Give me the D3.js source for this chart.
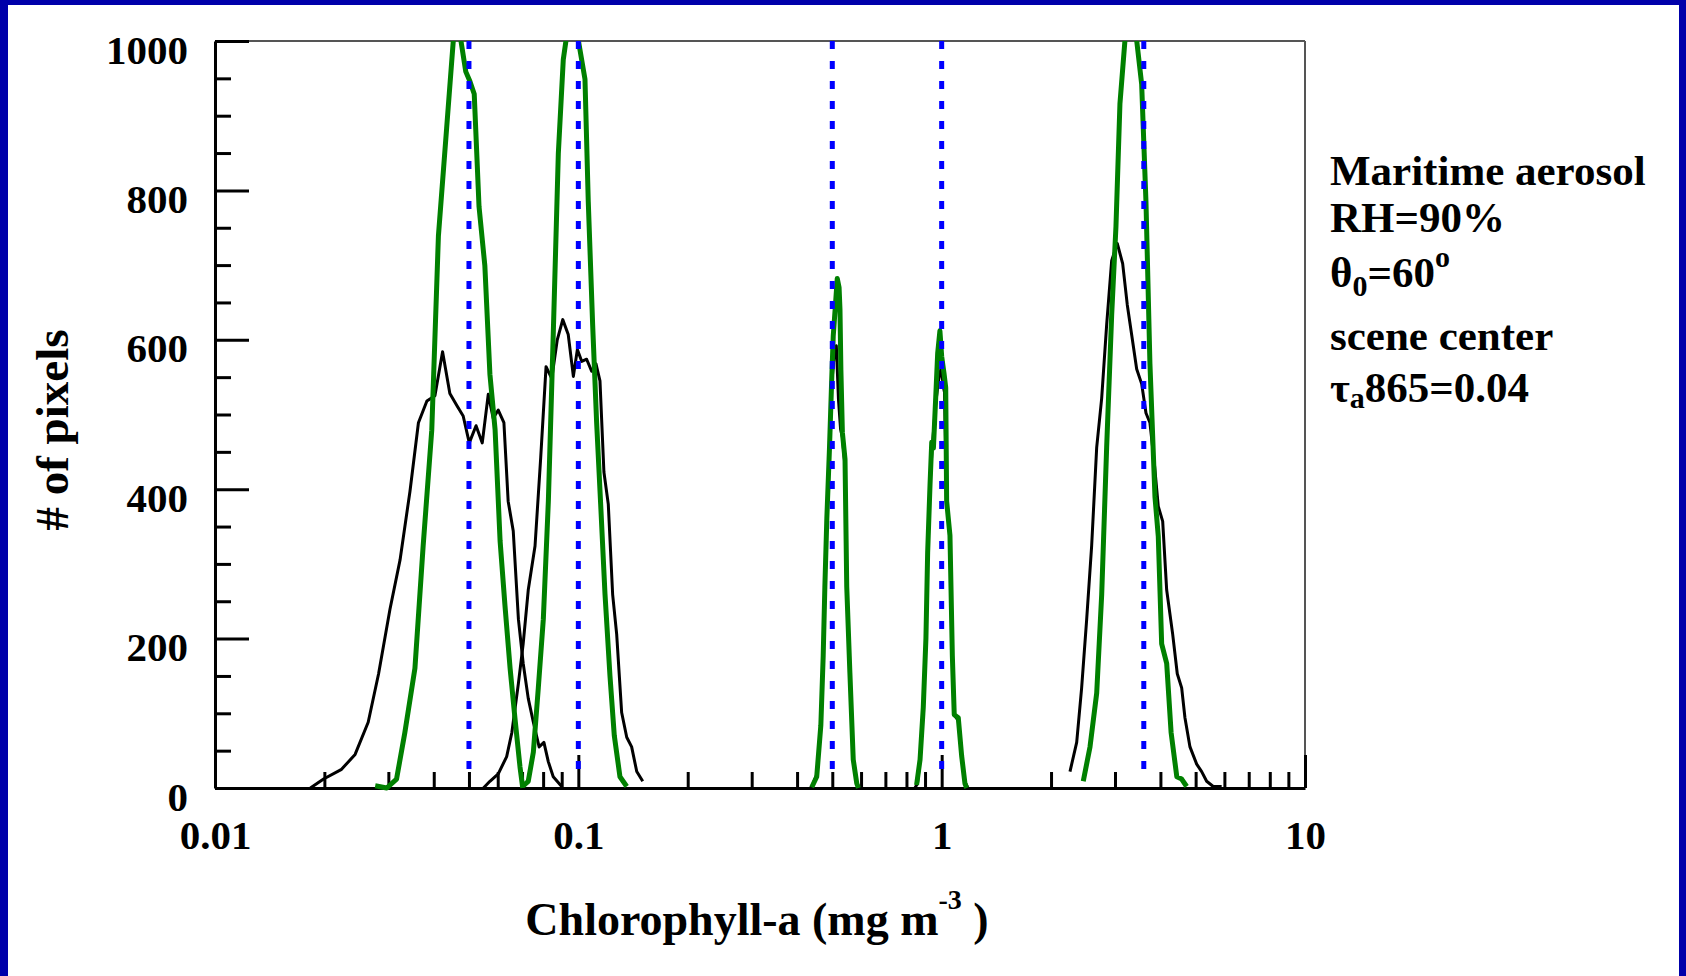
<!DOCTYPE html>
<html>
<head>
<meta charset="utf-8">
<script src="https://cdn.jsdelivr.net/npm/d3@7"></script>
<style>
body { margin: 0; background: #fff; }
svg text { font-family: "Liberation Serif", "Times New Roman", serif; font-weight: bold; fill: #000; }
</style>
</head>
<body>
<div id="chart"></div>
<script>
var W = 1686, H = 976;
var margin = {top: 41, right: 381, bottom: 188, left: 215},
    width = W - margin.left - margin.right,
    height = H - margin.top - margin.bottom;

// ---- data (chlorophyll-a, # of pixels) ----
var black1 = [[0.0183,0],[0.0199,12],[0.0223,25],[0.0243,45],[0.0264,88],[0.0282,153],[0.0303,239],[0.0323,305],[0.0344,397],[0.0363,489],[0.0383,518],[0.0403,525],[0.0423,584],[0.0443,528],[0.0463,512],[0.0482,498],[0.0501,462],[0.0523,485],[0.0544,462],[0.0565,527],[0.0583,495],[0.0602,506],[0.0624,489],[0.0641,384],[0.0662,344],[0.0684,226],[0.0705,167],[0.0728,120],[0.0752,88],[0.0780,55],[0.0804,61],[0.0827,35],[0.0853,15],[0.0900,2]];
var green1 = [[0.0276,3],[0.0297,0],[0.0316,12],[0.0333,74],[0.0355,160],[0.0374,324],[0.0395,479],[0.0412,739],[0.0434,883],[0.0453,1002],[0.0464,1050],[0.0475,1001],[0.0490,959],[0.0503,946],[0.0517,929],[0.0533,778],[0.0553,699],[0.0571,554],[0.0590,480],[0.0609,331],[0.0628,245],[0.0649,160],[0.0669,94],[0.0691,28],[0.0703,0]];
var black2 = [[0.0548,0],[0.0571,9],[0.0602,19],[0.0635,42],[0.0656,74],[0.0684,140],[0.0705,193],[0.0728,265],[0.0760,324],[0.0788,443],[0.0815,564],[0.0845,548],[0.0875,600],[0.0906,627],[0.0938,607],[0.0969,551],[0.0994,587],[0.1022,571],[0.1054,574],[0.1088,558],[0.1118,568],[0.1147,545],[0.1176,423],[0.1209,380],[0.1243,259],[0.1275,206],[0.1316,101],[0.1359,68],[0.1402,55],[0.1448,22],[0.1504,9]];
var green2 = [[0.0705,3],[0.0728,9],[0.0752,48],[0.0776,134],[0.0801,226],[0.0827,384],[0.0853,607],[0.0881,850],[0.0909,975],[0.0925,1001],[0.0961,1110],[0.1000,1001],[0.1043,949],[0.1065,785],[0.1095,620],[0.1123,489],[0.1152,380],[0.1184,260],[0.1222,150],[0.1256,70],[0.1302,15],[0.1359,2]];
var black3 = [[0.4355,0],[0.442,5],[0.453,18],[0.465,84],[0.472,177],[0.477,269],[0.483,361],[0.491,453],[0.498,540],[0.505,575],[0.513,592],[0.520,520],[0.527,480],[0.533,470],[0.542,430],[0.548,269],[0.559,154],[0.571,38],[0.584,8],[0.592,0]];
var green3 = [[0.439,1],[0.453,15],[0.465,84],[0.472,177],[0.477,269],[0.483,361],[0.491,453],[0.498,545],[0.503,605],[0.511,652],[0.516,682],[0.522,670],[0.525,640],[0.528,560],[0.533,476],[0.542,440],[0.548,269],[0.559,154],[0.571,38],[0.584,6],[0.590,0]];
var black4 = [[0.844,0],[0.858,6],[0.872,38],[0.890,108],[0.905,200],[0.915,315],[0.929,407],[0.940,450],[0.963,515],[0.980,545],[0.999,565],[1.008,540],[1.018,530],[1.032,384],[1.054,338],[1.070,177],[1.083,98],[1.111,90],[1.135,43],[1.159,8],[1.181,0]];
var green4 = [[0.853,4],[0.872,38],[0.890,108],[0.905,200],[0.915,315],[0.929,407],[0.939,463],[0.949,455],[0.963,523],[0.975,582],[0.989,612],[1.000,578],[1.015,555],[1.026,536],[1.032,384],[1.054,338],[1.070,177],[1.083,98],[1.111,94],[1.135,43],[1.159,6],[1.172,0]];
var black5 = [[2.255,22],[2.353,61],[2.428,134],[2.507,226],[2.587,324],[2.671,456],[2.757,522],[2.845,620],[2.937,706],[3.043,729],[3.149,702],[3.242,647],[3.333,607],[3.441,561],[3.552,541],[3.650,502],[3.743,489],[3.847,436],[3.946,377],[4.058,357],[4.162,265],[4.323,206],[4.451,153],[4.577,134],[4.673,94],[4.824,55],[5.033,32],[5.195,22],[5.362,9],[5.591,2],[5.897,2]];
var green5 = [[2.453,9],[2.560,55],[2.671,127],[2.757,259],[2.845,456],[2.937,633],[3.018,752],[3.095,916],[3.195,1001],[3.308,1080],[3.441,1001],[3.552,942],[3.650,785],[3.743,568],[3.864,390],[3.946,337],[4.032,193],[4.162,167],[4.281,74],[4.438,15],[4.577,12],[4.724,2]];

var blackSeries = [black1, black2, black3, black4, black5];
var greenSeries = [green1, green2, green3, green4, green5];
var refLines = [0.05, 0.1, 0.5, 1, 3.6];   // true chlorophyll of each scene
var refBottom = 20;

var xTicks = [0.01, 0.1, 1, 10];
var xTickLabels = ["0.01", "0.1", "1", "10"];
var xMinor = [0.02,0.03,0.04,0.05,0.06,0.07,0.08,0.09, 0.2,0.3,0.4,0.5,0.6,0.7,0.8,0.9, 2,3,4,5,6,7,8,9];
var yTicks = [0, 200, 400, 600, 800, 1000];
var yTickLabels = ["0", "200", "400", "600", "800", "1000"];
var yMinor = [50,100,150, 250,300,350, 450,500,550, 650,700,750, 850,900,950];

var svgRoot = d3.select("#chart").append("svg")
    .attr("width", W)
    .attr("height", H);

// frame of the slide
svgRoot.append("rect").attr("x", 0).attr("y", 0).attr("width", W).attr("height", H).attr("fill", "#fff");
svgRoot.append("rect").attr("x", 0).attr("y", 0).attr("width", 8).attr("height", H).attr("fill", "#0000aa");
svgRoot.append("rect").attr("x", 0).attr("y", 0).attr("width", W).attr("height", 5).attr("fill", "#0000aa");
svgRoot.append("rect").attr("x", W - 7).attr("y", 0).attr("width", 7).attr("height", H).attr("fill", "#0000aa");

var svg = svgRoot.append("g")
    .attr("transform", "translate(" + margin.left + "," + margin.top + ")");

var x = d3.scaleLog().domain([0.01, 10]).range([0, width]);
var y = d3.scaleLinear().domain([0, 1000]).range([height, 0]);

svg.append("clipPath").attr("id", "plotclip")
  .append("rect").attr("x", 0).attr("y", 0).attr("width", width).attr("height", height + 10);

// top and right frame lines
svg.append("line").attr("x1", 0).attr("x2", width).attr("y1", 0).attr("y2", 0)
    .attr("stroke", "#555").attr("stroke-width", 2);
svg.append("line").attr("x1", width).attr("x2", width).attr("y1", 0).attr("y2", height)
    .attr("stroke", "#555").attr("stroke-width", 2);

// axes
var xMinorAxis = svg.append("g")
    .attr("transform", "translate(0," + height + ")")
    .call(d3.axisBottom(x).tickValues(xMinor).tickSize(-16).tickSizeOuter(0).tickFormat(""));
xMinorAxis.select(".domain").remove();
xMinorAxis.selectAll("line").attr("stroke-width", 3);

var xAxis = svg.append("g")
    .attr("transform", "translate(0," + height + ")")
    .call(d3.axisBottom(x).tickValues(xTicks)
      .tickFormat(function(d, i) { return xTickLabels[i]; })
      .tickSize(-33).tickSizeOuter(0).tickPadding(32));
xAxis.attr("font-size", 41);
xAxis.select(".domain").attr("stroke-width", 3);
xAxis.selectAll("line").attr("stroke-width", 3);

var yMinorAxis = svg.append("g")
    .call(d3.axisLeft(y).tickValues(yMinor).tickSize(-16).tickSizeOuter(0).tickFormat(""));
yMinorAxis.select(".domain").remove();
yMinorAxis.selectAll("line").attr("stroke-width", 3);

var yAxis = svg.append("g")
    .call(d3.axisLeft(y).tickValues(yTicks)
      .tickFormat(function(d, i) { return yTickLabels[i]; })
      .tickSize(-34).tickSizeOuter(0).tickPadding(27));
yAxis.attr("font-size", 41);
yAxis.select(".domain").attr("stroke-width", 3);
yAxis.selectAll("line").attr("stroke-width", 3);
yAxis.selectAll("text").attr("dy", "0.54em");

// histograms
var line = d3.line()
    .x(function(d) { return x(d[0]); })
    .y(function(d) { return y(d[1]); });

var curves = svg.append("g").attr("clip-path", "url(#plotclip)");

curves.selectAll(".blackLine")
    .data(blackSeries)
    .enter()
    .append("path")
    .attr("class", "blackLine")
    .attr("d", line)
    .attr("fill", "none")
    .attr("stroke", "#000")
    .attr("stroke-width", 3)
    .attr("stroke-linejoin", "round");

curves.selectAll(".greenLine")
    .data(greenSeries)
    .enter()
    .append("path")
    .attr("class", "greenLine")
    .attr("d", line)
    .attr("fill", "none")
    .attr("stroke", "#008000")
    .attr("stroke-width", 5)
    .attr("stroke-linejoin", "round");

curves.selectAll(".refLine")
    .data(refLines)
    .enter()
    .append("line")
    .attr("class", "refLine")
    .attr("x1", function(d) { return x(d); })
    .attr("x2", function(d) { return x(d); })
    .attr("y1", y(1000))
    .attr("y2", y(refBottom))
    .attr("stroke", "#0000ff")
    .attr("stroke-width", 5)
    .attr("stroke-dasharray", "8,12");

// axis titles
svgRoot.append("text")
    .attr("transform", "translate(68,430) rotate(-90)")
    .attr("text-anchor", "middle")
    .attr("font-size", 47)
    .text("# of pixels");

var xt = svgRoot.append("text")
    .attr("x", 757)
    .attr("y", 935)
    .attr("text-anchor", "middle")
    .attr("font-size", 46);
xt.append("tspan").text("Chlorophyll-a (mg m");
xt.append("tspan").attr("dy", -26).attr("font-size", 28).text("-3");
xt.append("tspan").attr("dy", 26).text(" )");

// annotation
var ax = margin.left + width + 25;
var note = svgRoot.append("g").attr("font-size", 43);
note.append("text").attr("x", ax).attr("y", 185).text("Maritime aerosol");
note.append("text").attr("x", ax).attr("y", 232).text("RH=90%");
var th = note.append("text").attr("x", ax).attr("y", 287);
th.append("tspan").text("θ");
th.append("tspan").attr("dy", 9).attr("font-size", 30).text("0");
th.append("tspan").attr("dy", -9).text("=60");
th.append("tspan").attr("dy", -20).attr("font-size", 30).text("o");
note.append("text").attr("x", ax).attr("y", 350).text("scene center");
var ta = note.append("text").attr("x", ax).attr("y", 402);
ta.append("tspan").text("τ");
ta.append("tspan").attr("dy", 6).attr("font-size", 30).text("a");
ta.append("tspan").attr("dy", -6).text("865=0.04");
</script>
</body>
</html>
